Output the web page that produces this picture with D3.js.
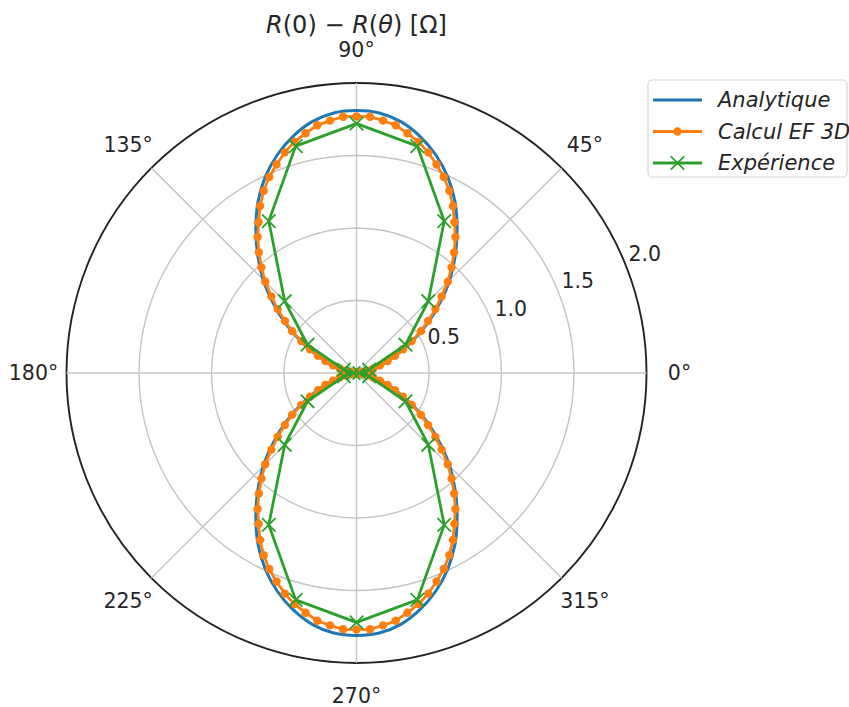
<!DOCTYPE html>
<html>
<head>
<meta charset="utf-8">
<script src="https://cdn.jsdelivr.net/npm/d3@7"></script>
<style>
  html, body { margin: 0; padding: 0; background: #fff; }
  svg { display: block; font-family: "DejaVu Sans", sans-serif; }
</style>
</head>
<body>
<div id="chart"></div>
<script>
// Angles in degrees (counter-clockwise from east), values in ohms
const blueAngles = d3.range(0, 360, 5);
const analytique = [
  0.00, 0.01, 0.05, 0.12, 0.21, 0.32, 0.45, 0.60, 0.75, 0.91, 1.06, 1.21, 1.36, 1.49, 1.60, 1.69, 1.76, 1.80,
  1.81, 1.80, 1.76, 1.69, 1.60, 1.49, 1.36, 1.21, 1.06, 0.91, 0.75, 0.60, 0.45, 0.32, 0.21, 0.12, 0.05, 0.01,
  0.00, 0.01, 0.05, 0.12, 0.21, 0.32, 0.45, 0.60, 0.75, 0.91, 1.06, 1.21, 1.36, 1.49, 1.60, 1.69, 1.76, 1.80,
  1.81, 1.80, 1.76, 1.69, 1.60, 1.49, 1.36, 1.21, 1.06, 0.91, 0.75, 0.60, 0.45, 0.32, 0.21, 0.12, 0.05, 0.01
];

const orangeAngles = d3.range(0, 360, 3);
const calculEF = [
  0.00, 0.00, 0.02, 0.04, 0.08, 0.12, 0.17, 0.23, 0.29, 0.36, 0.44, 0.53, 0.61, 0.70, 0.79, 0.89, 0.98, 1.07, 1.16, 1.24, 1.33, 1.41, 1.48, 1.54, 1.60, 1.65, 1.69, 1.73, 1.75, 1.77,
  1.77, 1.77, 1.75, 1.73, 1.69, 1.65, 1.60, 1.54, 1.48, 1.41, 1.33, 1.24, 1.16, 1.07, 0.98, 0.89, 0.79, 0.70, 0.61, 0.53, 0.44, 0.36, 0.29, 0.23, 0.17, 0.12, 0.08, 0.04, 0.02, 0.00,
  0.00, 0.00, 0.02, 0.04, 0.08, 0.12, 0.17, 0.23, 0.29, 0.36, 0.44, 0.53, 0.61, 0.70, 0.79, 0.89, 0.98, 1.07, 1.16, 1.24, 1.33, 1.41, 1.48, 1.54, 1.60, 1.65, 1.69, 1.73, 1.75, 1.77,
  1.77, 1.77, 1.75, 1.73, 1.69, 1.65, 1.60, 1.54, 1.48, 1.41, 1.33, 1.24, 1.16, 1.07, 0.98, 0.89, 0.79, 0.70, 0.61, 0.53, 0.44, 0.36, 0.29, 0.23, 0.17, 0.12, 0.08, 0.04, 0.02, 0.00
];

const greenAngles = d3.range(0, 360, 15);
const experience = [
  0.02, 0.09, 0.39, 0.70, 1.21, 1.62,
  1.72, 1.62, 1.21, 0.70, 0.39, 0.09,
  0.02, 0.09, 0.39, 0.70, 1.21, 1.62,
  1.72, 1.62, 1.21, 0.70, 0.39, 0.09
];

const radialTicks = [0.5, 1.0, 1.5, 2.0];
const angleTicks = [0, 45, 90, 135, 180, 225, 270, 315];
const seriesNames = ["Analytique", "Calcul EF 3D", "Expérience"];

const W = 849, H = 707;
const cx = 356.5, cy = 373;
const blue = "#1f77b4", orange = "#ff7f0e", green = "#2ca02c";

const svg = d3.select("#chart").append("svg")
  .attr("width", W).attr("height", H);

const r = d3.scaleLinear().domain([0, 2]).range([0, 290]);
// math angle (deg, ccw from east) -> d3 radial angle (rad, cw from north)
const a = d3.scaleLinear().domain([0, 360]).range([Math.PI / 2, Math.PI / 2 - 2 * Math.PI]);

const g = svg.append("g").attr("transform", `translate(${cx},${cy})`);

// grid rings
g.selectAll(".ring")
  .data(radialTicks)
  .enter()
  .append("circle")
  .attr("r", d => r(d))
  .attr("fill", "none")
  .attr("stroke", d => d === 2 ? "#222" : "#c4c4c4")
  .attr("stroke-width", d => d === 2 ? 1.9 : 1.4);

// spokes
g.selectAll(".spoke")
  .data(angleTicks)
  .enter()
  .append("line")
  .attr("x1", 0).attr("y1", 0)
  .attr("x2", d => r(2) * Math.sin(a(d)))
  .attr("y2", d => -r(2) * Math.cos(a(d)))
  .attr("stroke", "#c4c4c4")
  .attr("stroke-width", 1.4);

// angle labels
g.selectAll(".alabel")
  .data(angleTicks)
  .enter()
  .append("text")
  .attr("x", d => (r(2) + 33) * Math.sin(a(d)))
  .attr("y", d => -(r(2) + 33) * Math.cos(a(d)))
  .attr("text-anchor", "middle")
  .attr("dominant-baseline", "central")
  .style("font-size", "20.5px")
  .style("fill", "#262626")
  .text(d => d + "°");

// radial labels at 22.5°
g.selectAll(".rlabel")
  .data(radialTicks)
  .enter()
  .append("text")
  .attr("x", d => (r(d) + 22) * Math.sin(a(22.5)))
  .attr("y", d => -(r(d) + 22) * Math.cos(a(22.5)))
  .attr("text-anchor", "middle")
  .attr("dominant-baseline", "central")
  .style("font-size", "20.5px")
  .style("fill", "#262626")
  .text(d => d.toFixed(1));

const radial = d3.lineRadial()
  .angle(d => a(d[0]))
  .radius(d => r(d[1]));

const blueData = blueAngles.map((t, i) => [t, analytique[i]]);
const orangeData = orangeAngles.map((t, i) => [t, calculEF[i]]);
const greenData = greenAngles.map((t, i) => [t, experience[i]]);

g.append("path")
  .attr("d", radial.curve(d3.curveCatmullRomClosed)(blueData))
  .attr("fill", "none")
  .attr("stroke", blue)
  .attr("stroke-width", 3);

g.append("path")
  .attr("d", radial.curve(d3.curveLinearClosed)(orangeData))
  .attr("fill", "none")
  .attr("stroke", orange)
  .attr("stroke-width", 2.8);

g.selectAll(".dot")
  .data(orangeData)
  .enter()
  .append("circle")
  .attr("cx", d => r(d[1]) * Math.sin(a(d[0])))
  .attr("cy", d => -r(d[1]) * Math.cos(a(d[0])))
  .attr("r", 4.2)
  .attr("fill", orange);

g.append("path")
  .attr("d", radial.curve(d3.curveLinearClosed)(greenData))
  .attr("fill", "none")
  .attr("stroke", green)
  .attr("stroke-width", 2.8);

const xMark = d3.symbol().type(d3.symbolX).size(120);
g.selectAll(".xm")
  .data(greenData)
  .enter()
  .append("path")
  .attr("d", xMark)
  .attr("transform", d => `translate(${r(d[1]) * Math.sin(a(d[0]))},${-r(d[1]) * Math.cos(a(d[0]))})`)
  .attr("fill", "none")
  .attr("stroke", green)
  .attr("stroke-width", 1.8);

// title
const title = svg.append("text")
  .attr("x", cx)
  .attr("y", 25)
  .attr("text-anchor", "middle")
  .attr("dominant-baseline", "central")
  .style("font-size", "24px")
  .style("fill", "#262626");
title.append("tspan").style("font-style", "italic").text("R");
title.append("tspan").text("(0) − ");
title.append("tspan").style("font-style", "italic").text("R");
title.append("tspan").text("(");
title.append("tspan").style("font-style", "italic").text("θ");
title.append("tspan").text(") [Ω]");

// legend
const legend = svg.append("g");
legend.append("rect")
  .attr("x", 648).attr("y", 80)
  .attr("width", 199).attr("height", 97)
  .attr("rx", 4)
  .attr("fill", "#fff")
  .attr("stroke", "#d6d6d6")
  .attr("stroke-width", 1.2);

const colors = [blue, orange, green];
const rows = legend.selectAll(".row")
  .data(seriesNames)
  .enter()
  .append("g")
  .attr("transform", (d, i) => `translate(0,${100 + i * 31.5})`);

rows.append("line")
  .attr("x1", 653).attr("x2", 702)
  .attr("stroke", (d, i) => colors[i])
  .attr("stroke-width", 2.8);

rows.filter((d, i) => i === 1)
  .append("circle")
  .attr("cx", 677.5).attr("r", 4.2)
  .attr("fill", orange);

rows.filter((d, i) => i === 2)
  .append("path")
  .attr("d", xMark)
  .attr("transform", "translate(677.5,0)")
  .attr("fill", "none")
  .attr("stroke", green)
  .attr("stroke-width", 1.8);

rows.append("text")
  .attr("x", 718)
  .attr("dominant-baseline", "central")
  .style("font-size", "21px")
  .style("font-style", "italic")
  .style("fill", "#262626")
  .text(d => d);
</script>
</body>
</html>
